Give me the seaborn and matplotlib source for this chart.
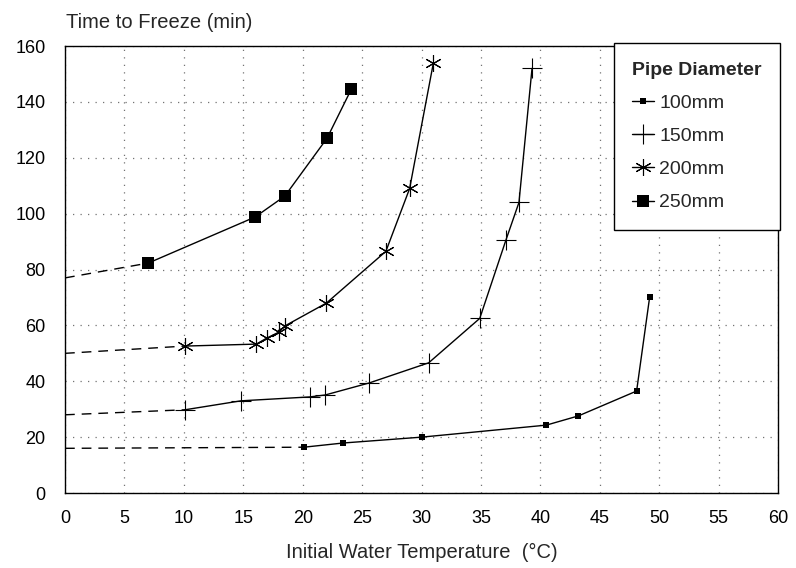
import matplotlib
matplotlib.use("Agg")
import matplotlib.pyplot as plt
import seaborn as sns
import pandas as pd

sns.set_style("white")
plt.rcParams['font.family'] = ['Liberation Sans', 'DejaVu Sans']

# series
diameters = ["100mm", "150mm", "200mm", "250mm"]

temp_100 = [20.1, 23.4, 30.0, 40.5, 43.2, 48.1, 49.2]
time_100 = [16.4, 17.9, 20.0, 24.3, 27.6, 36.5, 70.2]

temp_150 = [10.1, 14.8, 20.6, 21.9, 25.6, 30.6, 34.9, 37.1, 38.2, 39.3]
time_150 = [29.8, 33.0, 34.4, 35.1, 39.4, 46.6, 62.5, 90.5, 104.0, 152.0]

temp_200 = [10.1, 16.1, 17.0, 18.0, 18.5, 22.0, 27.0, 29.0, 31.0]
time_200 = [52.6, 53.3, 55.5, 57.6, 59.8, 68.0, 86.5, 109.0, 154.0]

temp_250 = [7.0, 16.0, 18.5, 22.05, 24.1]
time_250 = [82.3, 98.8, 106.3, 127.0, 144.6]

# extrapolated values at 0 degC (dashed part)
intercepts = [16.0, 28.0, 50.0, 77.0]

temps = [temp_100, temp_150, temp_200, temp_250]
times = [time_100, time_150, time_200, time_250]

marker_styles = {
    "100mm": dict(marker="s", markersize=4.5, markeredgewidth=0),
    "150mm": dict(marker="+", markersize=14, markeredgewidth=0.8),
    "200mm": dict(marker=(6, 2, 0), markersize=12, markeredgewidth=0.8),
    "250mm": dict(marker="s", markersize=9, markeredgewidth=0),
}

fig = plt.figure(figsize=(7.96, 5.68), dpi=100)
ax = fig.add_axes([0.0817, 0.132, 0.8957, 0.787])

for name, xs, ys, y0 in zip(diameters, temps, times, intercepts):
    ext = pd.DataFrame({"x": [0, xs[0]], "y": [y0, ys[0]]})
    sns.lineplot(data=ext, x="x", y="y", ax=ax, color="black", lw=1.0,
                 linestyle=(0, (7, 5)), legend=False)
    df = pd.DataFrame({"x": xs, "y": ys})
    sns.lineplot(data=df, x="x", y="y", ax=ax, color="black", lw=1.0,
                 sort=False, markerfacecolor="black", markeredgecolor="black",
                 label=name, **marker_styles[name])

ax.set_xlim(0, 60)
ax.set_ylim(0, 160)
ax.set_xticks(range(0, 61, 5))
ax.set_yticks(range(0, 161, 20))
ax.set_yticks(range(10, 160, 20), minor=True)
ax.tick_params(axis="both", which="major", direction="out", width=0.8,
               labelsize=13, colors="black")
ax.tick_params(axis="y", which="major", length=7, pad=7)
ax.tick_params(axis="y", which="minor", direction="out", length=5, width=0.8)
ax.tick_params(axis="x", which="major", length=4, pad=8)
ax.grid(True, which="major", color="0.45", linestyle=(0, (1, 5)), lw=0.9)
for s in ax.spines.values():
    s.set_color("black")
    s.set_linewidth(1.0)

ax.set_xlabel("Initial Water Temperature  (°C)", fontsize=14.5, labelpad=12)
ax.set_ylabel("")
fig.text(0.083, 0.961, "Time to Freeze (min)", fontsize=14.5, ha="left", va="center")

leg = ax.legend(title="Pipe Diameter", loc="upper right", bbox_to_anchor=(1.003, 1.006),
                borderaxespad=0, frameon=True, fancybox=False, edgecolor="black",
                fontsize=14, title_fontproperties={"weight": "bold", "size": 14},
                handlelength=1.1, handletextpad=0.3, labelspacing=0.8,
                borderpad=0.95, alignment="left", framealpha=1)
leg.get_frame().set_linewidth(1.0)
leg.set_zorder(5)

fig.savefig("out.png", dpi=100)
